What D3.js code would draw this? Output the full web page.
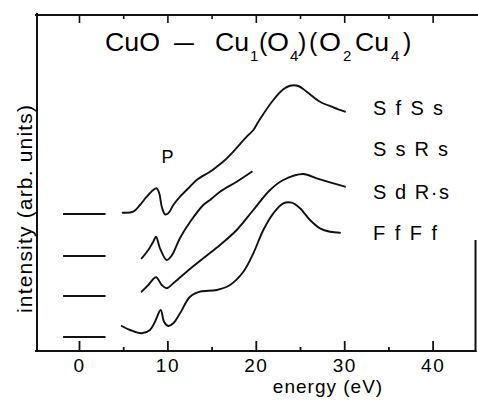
<!DOCTYPE html>
<html>
<head>
<meta charset="utf-8">
<script src="https://cdn.jsdelivr.net/npm/d3@7"></script>
<style>
  html, body { margin: 0; padding: 0; background: #fff; }
  svg { display: block; }
  text { font-family: "Liberation Sans", Arial, Helvetica, sans-serif; fill: #000; }
</style>
</head>
<body>
<svg id="chart" width="478" height="401"></svg>
<script>
// Spectra: [energy (eV), intensity (arb. units, offset per curve)]
const sfss = [
  [4.94,13.83],[6.14,13.93],[6.90,14.6],[7.66,15.43],[8.40,16.1],[8.79,16.27],
  [9.08,15.77],[9.36,14.43],[9.73,13.67],[10.10,13.77],[10.67,14.6],[11.43,15.43],
  [12.4,16.3],[13.31,17.1],[14.82,17.93],[15.58,18.43],[16.52,19.1],[17.45,19.93],
  [18.97,21.43],[19.72,22.1],[20.48,23.2],[21.98,25.1],[23.11,26.17],[23.87,26.53],
  [24.81,26.5],[25.76,25.93],[27.26,24.93],[28.77,24.37],[30.09,23.93]
];
const ssrs = [
  [7.09,9.27],[7.84,10.1],[8.40,10.93],[8.71,11.43],[9.16,10.27],[9.92,9.1],
  [10.49,9.55],[11.43,11.3],[12.56,12.9],[14.06,14.6],[14.82,15.1],[15.95,15.93],
  [17.84,16.93],[19.54,17.93]
];
const sdrs = [
  [7.09,5.93],[7.84,6.6],[8.71,7.37],[9.36,6.6],[9.92,6.27],[10.67,6.77],
  [12.18,7.93],[14.06,9.27],[15.95,10.6],[17.84,12.1],[19.72,14.1],[21.61,16.1],
  [23.11,17.1],[25.37,17.7],[26.89,17.27],[28.39,16.87],[30.09,16.43]
];
const ffff = [
  [4.83,2.5],[5.77,2.1],[7.09,1.77],[8.03,2.1],[8.60,2.93],[9.24,4.1],[9.62,2.93],
  [10.10,2.5],[10.67,2.77],[11.43,3.77],[12.56,5.43],[13.69,5.93],[15.58,6.1],
  [17.08,6.6],[18.59,7.93],[19.72,9.77],[20.85,12.1],[21.98,13.77],[23.11,14.77],
  [24.06,14.83],[25.0,14.27],[26.13,13.1],[27.26,12.27],[28.39,11.93],[29.52,11.83]
];
const curveLabels = ["S f S s", "S s R s", "S d R\u00b7s", "F f F f"];
const baselines = [13.7, 9.5, 5.5, 1.4];     // zero level of each spectrum
const baselineSpan = [-1.8, 3.0];            // energy range of the zero markers
const majorTicks = [0, 10, 20, 30, 40];
const minorTicks = [5, 15, 25, 35];
const peakLabel = "P";

const svg = d3.select("#chart");
const W = 478, H = 401;
const plotL = 37, plotR = 475.5, plotT = 15, plotB = 351;

const x = d3.scaleLinear().domain([-4.75, 44.85]).range([plotL, plotR]);
const y = d3.scaleLinear().domain([0, 33.6]).range([plotB, plotT]);

const ink = "#111";

// frame
svg.append("line").attr("x1", plotL).attr("x2", plotL).attr("y1", plotT - 2).attr("y2", plotB)
  .attr("stroke", ink).attr("stroke-width", 2);
svg.append("line").attr("x1", plotL - 2).attr("x2", W).attr("y1", plotT).attr("y2", plotT)
  .attr("stroke", ink).attr("stroke-width", 2);
svg.append("line").attr("x1", plotL - 2).attr("x2", plotR + 1).attr("y1", plotB).attr("y2", plotB)
  .attr("stroke", ink).attr("stroke-width", 2);
svg.append("line").attr("x1", plotR).attr("x2", plotR).attr("y1", 240).attr("y2", plotB + 1)
  .attr("stroke", ink).attr("stroke-width", 2);

// bottom axis: ticks pointing inward
const bottomAxis = svg.append("g").attr("transform", `translate(0,${plotB})`)
  .call(d3.axisBottom(x).tickValues(majorTicks).tickSize(-10).tickSizeOuter(0).tickPadding(0).tickFormat(d3.format("d")));
bottomAxis.select(".domain").remove();
bottomAxis.selectAll(".tick line").attr("stroke", ink).attr("stroke-width", 1.8);
bottomAxis.selectAll(".tick text")
  .attr("y", 21).attr("dy", 0)
  .style("font-size", "19px").style("letter-spacing", "1.5px")
  .style("font-family", "'Liberation Sans', Arial, sans-serif").attr("fill", "#000");
const bottomMinor = svg.append("g").attr("transform", `translate(0,${plotB})`)
  .call(d3.axisBottom(x).tickValues(minorTicks).tickSize(-4).tickSizeOuter(0).tickFormat(""));
bottomMinor.select(".domain").remove();
bottomMinor.selectAll(".tick line").attr("stroke", ink).attr("stroke-width", 1.8);

// top axis: ticks pointing down
const topAxis = svg.append("g").attr("transform", `translate(0,${plotT})`)
  .call(d3.axisTop(x).tickValues(majorTicks).tickSize(-8).tickSizeOuter(0).tickFormat(""));
topAxis.select(".domain").remove();
topAxis.selectAll(".tick line").attr("stroke", ink).attr("stroke-width", 1.6);
const topMinor = svg.append("g").attr("transform", `translate(0,${plotT})`)
  .call(d3.axisTop(x).tickValues(minorTicks).tickSize(-4).tickSizeOuter(0).tickFormat(""));
topMinor.select(".domain").remove();
topMinor.selectAll(".tick line").attr("stroke", ink).attr("stroke-width", 1.6);

// zero markers
svg.append("g").selectAll("line").data(baselines).join("line")
  .attr("x1", x(baselineSpan[0])).attr("x2", x(baselineSpan[1]))
  .attr("y1", d => y(d)).attr("y2", d => y(d))
  .attr("stroke", ink).attr("stroke-width", 2);

// spectra
const line = d3.line().x(d => x(d[0])).y(d => y(d[1])).curve(d3.curveCatmullRom.alpha(0.5));
svg.append("g").selectAll("path").data([sfss, ssrs, sdrs, ffff]).join("path")
  .attr("d", line).attr("fill", "none").attr("stroke", ink)
  .attr("stroke-width", 1.9).attr("stroke-linejoin", "round").attr("stroke-linecap", "round");

// curve labels
const labelX = 373;
const labelBase = [115, 156, 199, 240];
const labelLen = [70, 75, 76, 64];
svg.append("g").selectAll("text").data(curveLabels).join("text")
  .attr("x", labelX).attr("y", (d, i) => labelBase[i])
  .attr("textLength", (d, i) => labelLen[i]).attr("lengthAdjust", "spacing")
  .style("font-size", "20px").text(d => d);

// peak label
svg.append("text").attr("x", 167.5).attr("y", 163).attr("text-anchor", "middle")
  .style("font-size", "18px").text(peakLabel);

// axis titles
svg.append("text").attr("x", 328).attr("y", 393).attr("text-anchor", "middle")
  .style("font-size", "19px").style("letter-spacing", "1px").text("energy (eV)");
svg.append("text").attr("transform", "translate(32,209) rotate(-90)").attr("text-anchor", "middle")
  .attr("textLength", 208).attr("lengthAdjust", "spacing")
  .style("font-size", "21px").text("intensity (arb. units)");

// title with subscripts: [text, x, subscript?, stretched width]
const titleParts = [
  ["CuO", 105, false, 55], ["\u2013", 174, false, 20], ["Cu", 215, false, 34], ["1", 250, true, 0],
  ["(", 259, false, 0], ["O", 267, false, 22], ["4", 290, true, 0], [")", 298, false, 0],
  ["(", 309, false, 0], ["O", 319, false, 22], ["2", 343, true, 0], ["Cu", 355, false, 34],
  ["4", 391, true, 0], [")", 403, false, 0]
];
const title = svg.append("g");
titleParts.forEach(([t, px, sub, len]) => {
  const el = title.append("text")
    .attr("x", px).attr("y", sub ? 61 : 51)
    .style("font-size", sub ? "15px" : "25px")
    .text(t);
  if (len) el.attr("textLength", len).attr("lengthAdjust", "spacingAndGlyphs");
});
</script>
</body>
</html>
